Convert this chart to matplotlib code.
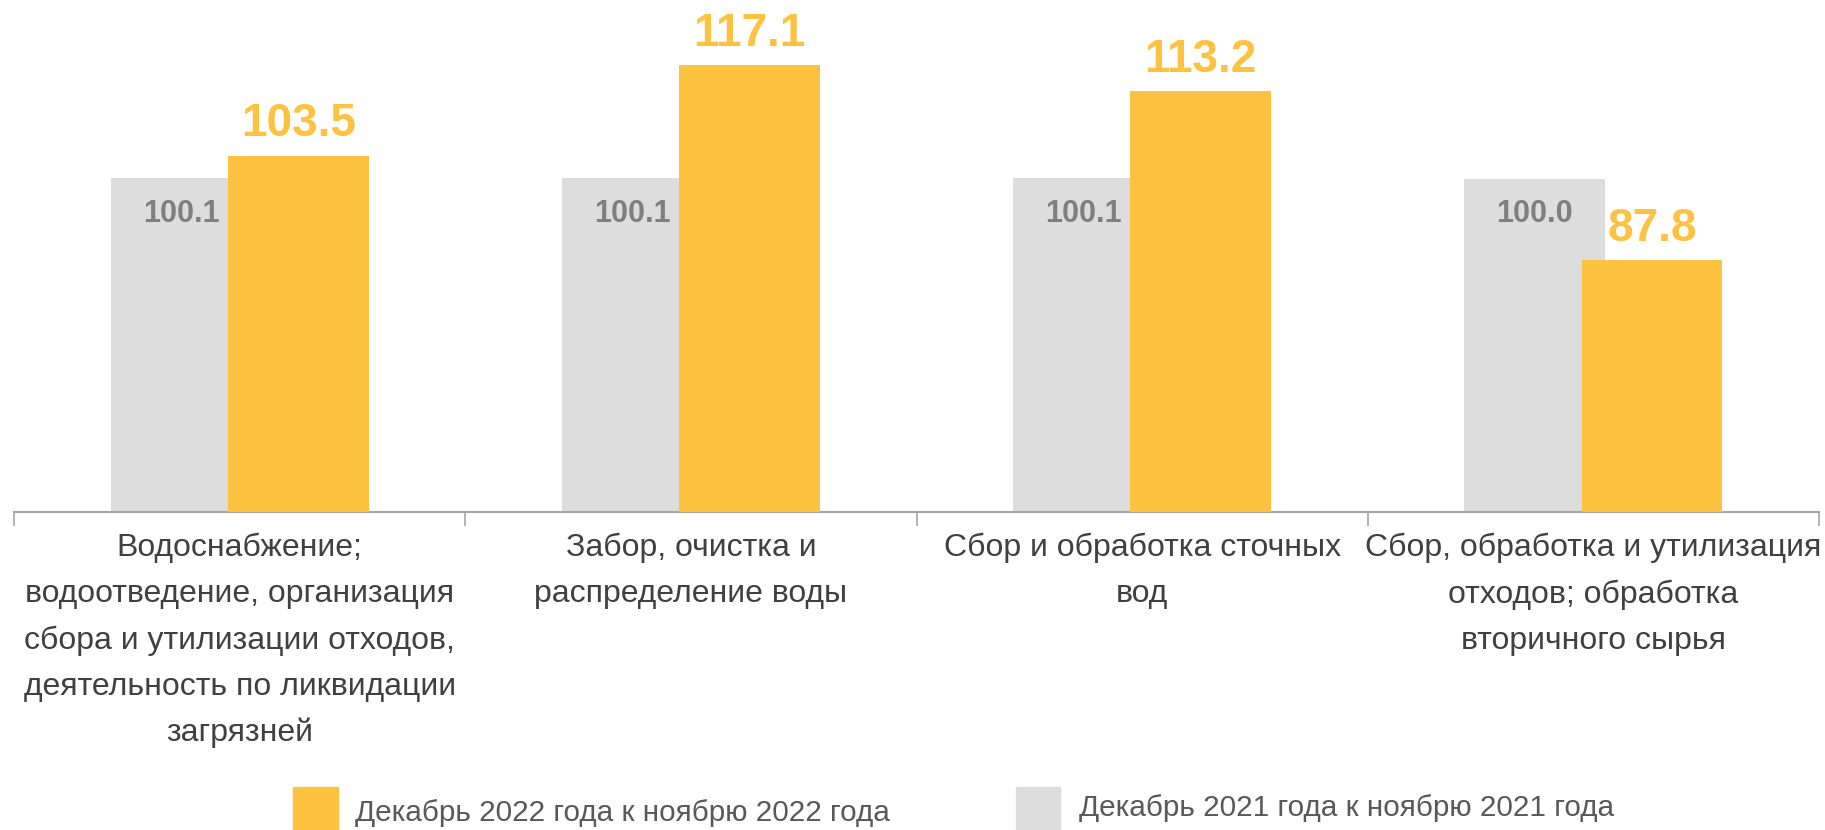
import numpy as np
import matplotlib.pyplot as plt
from matplotlib.patches import Rectangle

plt.rcParams['font.family'] = ['Liberation Sans', 'DejaVu Sans']

categories = [
    "Водоснабжение;\nводоотведение, организация\nсбора и утилизации отходов,\nдеятельность по ликвидации\nзагрязней",
    "Забор, очистка и\nраспределение воды",
    "Сбор и обработка сточных\nвод",
    "Сбор, обработка и утилизация\nотходов; обработка\nвторичного сырья",
]
dec_2021 = [100.1, 100.1, 100.1, 100.0]
dec_2022 = [103.5, 117.1, 113.2, 87.8]
legend_2022 = "Декабрь 2022 года к ноябрю 2022 года"
legend_2021 = "Декабрь 2021 года к ноябрю 2021 года"

orange = '#FDC23F'
grey = '#DDDDDD'

fig = plt.figure(figsize=(18.25, 8.3), dpi=100)
ax = fig.add_axes([0.0077, 0.383, 0.989, 0.617])

x = np.arange(len(categories))
w = 0.312
off = 0.130
ax.bar(x - off, dec_2021, width=w, color=grey, zorder=2)
ax.bar(x + off, dec_2022, width=w, color=orange, zorder=3)

for xi, v in zip(x, dec_2021):
    ax.text(xi - off, v - 5.3, f"{v:.1f}", ha='center', va='center',
            fontsize=22, fontweight='bold', color='#7F7F7F', zorder=4)
for xi, v in zip(x, dec_2022):
    ax.text(xi + off, v + 2.95, f"{v:.1f}", ha='center', va='baseline',
            fontsize=33, fontweight='bold', color=orange, zorder=4)

ax.set_xlim(-0.5, 3.5)
ax.set_ylim(50, 126.9)
ax.set_yticks([])
for s in ['top', 'right', 'left']:
    ax.spines[s].set_visible(False)
ax.spines['bottom'].set_color('#A6A6A6')
ax.spines['bottom'].set_linewidth(1.5)

ax.set_xticks(np.arange(-0.5, 4.0, 1.0))
ax.set_xticklabels([])
ax.tick_params(axis='x', length=10, width=1.2, color='#A6A6A6', direction='out')
ax.set_xticks(x, minor=True)
ax.set_xticklabels(categories, minor=True, fontsize=23, color='#404040',
                   linespacing=1.69, va='top')
ax.tick_params(axis='x', which='minor', length=0, pad=15)

# legend
fig.patches.append(Rectangle((0.1605, -0.01), 0.0245, 0.062, transform=fig.transFigure,
                             color=orange, figure=fig))
fig.text(0.1945, 0.020, legend_2022, fontsize=21.4, color='#595959', va='center')
fig.patches.append(Rectangle((0.5565, -0.01), 0.0245, 0.062, transform=fig.transFigure,
                             color=grey, figure=fig))
fig.text(0.5915, 0.027, legend_2021, fontsize=21.4, color='#595959', va='center')

fig.savefig('out.png', dpi=100)
